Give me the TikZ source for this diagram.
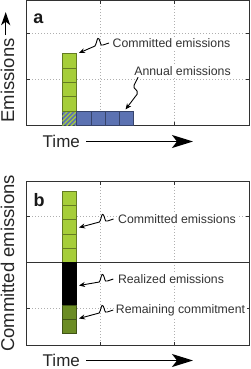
\documentclass[tikz,border=0pt]{standalone}
\usepackage{fontspec}
\setmainfont{Liberation Sans}
\usepackage{tikz}
\usetikzlibrary{arrows.meta,positioning,calc,patterns.meta}
\definecolor{commitC}{RGB}{166,206,57}
\definecolor{annualC}{RGB}{92,114,178}
\definecolor{remainC}{RGB}{107,140,36}
\definecolor{frameC}{RGB}{50,50,50}
\definecolor{gridC}{RGB}{175,175,175}
\tikzset{
  cell/.style={rectangle, draw=#1!60!black, fill=#1, line width=0.5pt, inner sep=0pt,
               minimum width=14.2pt, minimum height=14.25pt},
  panelframe/.style={draw=frameC, line width=0.9pt},
  gridline/.style={draw=gridC, line width=0.6pt, dash pattern=on 0.8pt off 2.2pt},
  tickmark/.style={draw=frameC, line width=0.8pt},
  lbl/.style={fill=white, inner sep=1.5pt, font=\fontsize{12.3}{14}\selectfont, text=black!80},
  axlbl/.style={inner sep=0pt, font=\fontsize{18.5}{20}\selectfont, text=black!85},
  panellbl/.style={inner sep=0pt, font=\bfseries\fontsize{18}{20}\selectfont, text=black!90},
  squig/.style={-{Stealth[length=6pt,width=5pt]}, line width=0.9pt, draw=black},
  timearr/.style={-{Stealth[length=21pt,width=13pt,inset=5pt]}, line width=1.6pt, draw=black},
  emarr/.style={-{Stealth[length=13pt,width=9pt,inset=3.5pt]}, line width=1.5pt, draw=black},
}
\begin{document}
\begin{tikzpicture}[x=1pt, y=-1pt]
\useasboundingbox (0,0) rectangle (250,369);
\foreach \gx in {100,174} {\draw[gridline] (\gx,0.5) -- (\gx,125); \draw[gridline] (\gx,181) -- (\gx,345);}
\foreach \gy in {33,79,216,308} \draw[gridline] (26,\gy) -- (249,\gy);
\foreach \gx in {100,174} {\draw[tickmark] (\gx,0.5) -- ++(0,3.5); \draw[tickmark] (\gx,125) -- ++(0,-3.5); \draw[tickmark] (\gx,181) -- ++(0,3.5); \draw[tickmark] (\gx,345) -- ++(0,-3.5);}
\foreach \gy in {33,79,216,308} {\draw[tickmark] (26,\gy) -- ++(3.5,0); \draw[tickmark] (249,\gy) -- ++(-3.5,0);}
\draw[panelframe] (26,0.5) rectangle (249,125);
\draw[panelframe] (26,181) rectangle (249,345);
\draw[panelframe] (26,262) -- (249,262);
\node[cell=annualC, postaction={pattern={Lines[angle=45,distance=3.2pt,line width=1.3pt]}, pattern color=commitC}] (hA) at (69.5,117.875) {};
\foreach \i in {1,...,4} \node[cell=commitC] (gA\i) at (69.5,117.875-14.25*\i) {};
\foreach \j in {1,...,4} \node[cell=annualC] (bA\j) at (69.5+14.2*\j,117.875) {};
\foreach \i in {1,...,5} \node[cell=commitC] (gB\i) at (69.5,183.875+14.25*\i) {};
\foreach \i in {6,7,8} \node[cell=black] (kB\i) at (69.5,183.875+14.25*\i) {};
\foreach \i in {9,10} \node[cell=remainC] (dB\i) at (69.5,183.875+14.25*\i) {};
\node[panellbl] (pa) at (38.3,18.7) {a};
\node[panellbl] (pb) at (39,200) {b};
\node[lbl] (tCommitA) at (171.5,43) {Committed emissions};
\node[lbl] (tAnnualA) at (182.5,71) {Annual emissions};
\node[lbl] (tCommitB) at (177,219) {Committed emissions};
\node[lbl] (tRealB) at (171,279) {Realized emissions};
\node[lbl] (tRemainB) at (180.5,310) {Remaining commitment};
\coordinate (tipCommitA) at (79,53);
\coordinate (tipAnnualA) at (125.5,109.5);
\coordinate (tipCommitB) at (79,227.5);
\coordinate (tipRealB) at (79,285.5);
\coordinate (tipRemainB) at (79,318.5);
\draw[squig] ([xshift=-2pt]tCommitA.west) -- ++(-6,2) .. controls +(-3,1) and +(2,4) .. ++(-4,-6) .. controls +(-2,-3) and +(2,-3) .. ++(-4,7) -- (tipCommitA);
\draw[squig] ($(tAnnualA.south west)+(5.5,0)$) -- ++(-4,8) .. controls +(-2,4) and +(2,-5) .. ++(3,9) -- (tipAnnualA);
\draw[squig] ([xshift=-3pt]tCommitB.west) -- ++(-6,2) .. controls +(-3,1) and +(2,4) .. ++(-4,-6) .. controls +(-2,-3) and +(2,-3) .. ++(-4,7) -- (tipCommitB);
\draw[squig] ([xshift=-3pt]tRealB.west) -- ++(-6,2) .. controls +(-3,1) and +(2,4) .. ++(-4,-6) .. controls +(-2,-3) and +(2,-3) .. ++(-4,7) -- (tipRealB);
\draw[squig] ([xshift=-1pt]tRemainB.west) -- ++(-6,2) .. controls +(-3,1) and +(2,4) .. ++(-4,-6) .. controls +(-2,-3) and +(2,-3) .. ++(-4,7) -- (tipRemainB);
\node[axlbl, rotate=90] (yA) at (7.5,80.5) {Emissions};
\draw[emarr] ([xshift=-1.8pt,yshift=3pt]yA.east) -- ([xshift=-1.8pt,yshift=26pt]yA.east);
\node[axlbl, rotate=90] (yB) at (7.5,263.5) {Committed emissions};
\node[axlbl, font=\fontsize{17}{19}\selectfont] (xA) at (61.3,141.5) {Time};
\node[axlbl, font=\fontsize{17}{19}\selectfont] (xB) at (61.3,360.5) {Time};
\coordinate (endA) at (193,141.5);
\coordinate (endB) at (193,360.5);
\draw[timearr] ([xshift=6pt]xA.east) -- (endA);
\draw[timearr] ([xshift=6pt]xB.east) -- (endB);
\end{tikzpicture}
\end{document}
